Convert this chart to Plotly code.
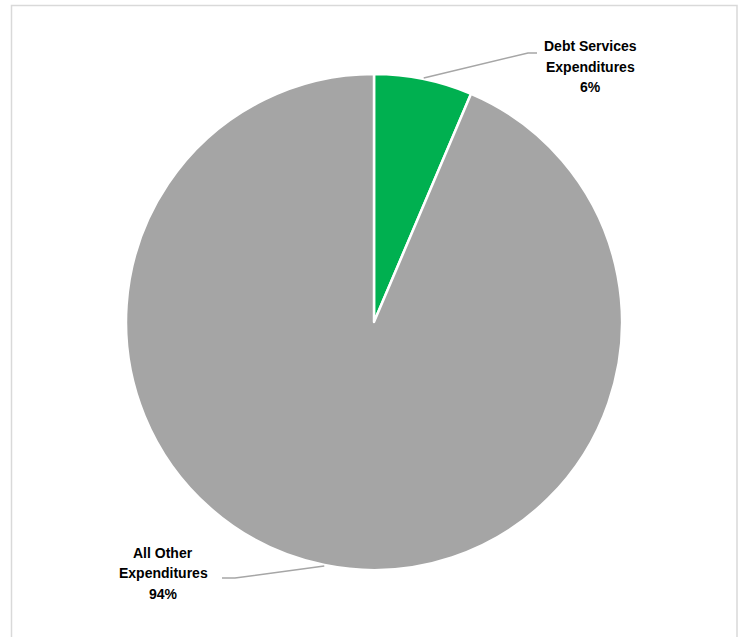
import math
import plotly.graph_objects as go

categories = ["Debt Services<br>Expenditures", "All Other<br>Expenditures"]
values = [6.4, 93.6]
pct_labels = ["6%", "94%"]
colors = ["#00B050", "#A5A5A5"]

W, H = 743, 637
cx, cy, R = 374, 322, 248

fig = go.Figure(go.Pie(
    labels=categories, values=values, sort=False, direction="clockwise",
    rotation=0, textinfo="none", hoverinfo="label+percent",
    marker=dict(colors=colors, line=dict(color="white", width=2.5)),
    domain=dict(x=[(cx - R) / W, (cx + R) / W], y=[1 - (cy + R) / H, 1 - (cy - R) / H]),
    showlegend=False,
))

total = sum(values)
label_pos = [(590, 67), (163, 573)]
elbow = [(537, 53, 528, 53), (222, 578, 235, 578)]
line_gap = 20.5
shapes = []
annotations = []
start = 0.0
for i, v in enumerate(values):
    frac = start + v / total * 0.5
    ang = 2 * math.pi * frac
    px = cx + (R + 1) * math.sin(ang)
    py = cy - (R + 1) * math.cos(ang)
    x0, y0, x1, y1 = elbow[i]
    path = f"M {x0/W} {1-y0/H} L {x1/W} {1-y1/H} L {px/W} {1-py/H}"
    shapes.append(dict(type="path", xref="paper", yref="paper", path=path,
                       line=dict(color="#A6A6A6", width=1.5)))
    lx, ly = label_pos[i]
    lines = categories[i].split("<br>") + [pct_labels[i]]
    for k, txt in enumerate(lines):
        yy = ly + (k - 1) * line_gap
        annotations.append(dict(
            x=lx / W, y=1 - yy / H, xref="paper", yref="paper", showarrow=False,
            text=f"<b>{txt}</b>", align="center",
            xanchor="center", yanchor="middle",
            font=dict(family="Liberation Sans, Arial", size=14, color="#000000"),
        ))
    start += v / total

# outer chart frame
shapes.append(dict(type="rect", xref="paper", yref="paper",
                   x0=11.5 / W, x1=737 / W, y0=-0.05, y1=1 - 5.5 / H,
                   line=dict(color="#D9D9D9", width=1.5), fillcolor="rgba(0,0,0,0)"))

fig.update_layout(
    width=W, height=H, margin=dict(l=0, r=0, t=0, b=0),
    paper_bgcolor="white", plot_bgcolor="white",
    shapes=shapes, annotations=annotations,
)
fig.write_html("out.html", config={"displayModeBar": False},
               post_script="document.body.style.margin='0';document.body.style.overflow='hidden';")
